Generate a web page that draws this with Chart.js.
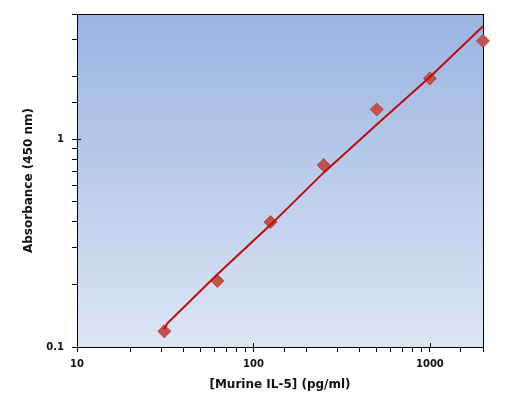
<!DOCTYPE html>
<html>
<head>
<meta charset="utf-8">
<script src="https://cdn.jsdelivr.net/npm/chart.js@4.4.0/dist/chart.umd.min.js"></script>
<style>
    html, body { margin: 0; padding: 0; background: #ffffff; }
    #wrap { width: 520px; height: 414px; }
</style>
</head>
<body>
<div id="wrap"><canvas id="standardChart" width="520" height="414"></canvas></div>
<script>
// standard concentrations (pg/ml) and measured absorbance
const concentrations = [31.25, 62.5, 125, 250, 500, 1000, 2000];
const absorbance = [0.119, 0.208, 0.399, 0.75, 1.39, 1.96, 2.97];

// fitted curve
const fitX = [31.25, 32.5, 62.5, 125, 250, 500, 1000, 2000];
const fitY = [0.122, 0.13, 0.224, 0.387, 0.69, 1.175, 1.99, 3.49];

// labelled decades on each axis
const xMajor = [10, 100, 1000];
const yMajor = [0.1, 1];

const tickFont = { family: 'DejaVu Sans', size: 10, weight: 'bold' };
const titleFont = { family: 'DejaVu Sans', size: 12, weight: 'bold' };
const textColor = '#111111';

function isMajor(list, v) {
    return list.some(m => Math.abs(m - v) / m < 1e-6);
}

// gradient behind the plot, black frame and the short inner ticks at the decades
const plotArea = {
    id: 'plotArea',
    beforeDatasetsDraw(chart) {
        const { ctx, chartArea: a, scales } = chart;
        const g = ctx.createLinearGradient(0, a.top, 0, a.bottom);
        g.addColorStop(0, '#99b4e2');
        g.addColorStop(1, '#dde5f4');
        ctx.save();
        ctx.fillStyle = g;
        ctx.fillRect(a.left, a.top, a.right - a.left, a.bottom - a.top);
        ctx.strokeStyle = '#000000';
        ctx.lineWidth = 1;
        ctx.strokeRect(a.left + 0.5, a.top + 0.5, a.right - a.left, a.bottom - a.top);
        ctx.beginPath();
        xMajor.forEach(v => {
            const px = Math.round(scales.x.getPixelForValue(v)) + 0.5;
            ctx.moveTo(px, a.bottom);
            ctx.lineTo(px, a.bottom - 4);
        });
        yMajor.forEach(v => {
            const py = Math.round(scales.y.getPixelForValue(v)) + 0.5;
            ctx.moveTo(a.left, py);
            ctx.lineTo(a.left + 4, py);
        });
        ctx.stroke();
        ctx.restore();
    }
};

const ctx = document.getElementById('standardChart').getContext('2d');
const standardChart = new Chart(ctx, {
    type: 'scatter',
    data: {
        datasets: [
            {
                label: 'Standard',
                data: concentrations.map((c, i) => ({ x: c, y: absorbance[i] })),
                pointStyle: 'rectRot',
                pointRadius: 6.5,
                backgroundColor: '#c3524e',
                borderColor: '#b84845',
                borderWidth: 1,
                showLine: false,
                clip: false,
                order: 1
            },
            {
                label: 'Fit',
                data: fitX.map((c, i) => ({ x: c, y: fitY[i] })),
                showLine: true,
                borderColor: '#bb0c0c',
                borderWidth: 2,
                pointRadius: 0,
                tension: 0,
                clip: false,
                order: 0
            }
        ]
    },
    options: {
        responsive: false,
        animation: false,
        devicePixelRatio: 1,
        layout: { padding: { left: 0, right: 37, top: 14, bottom: 0 } },
        plugins: {
            legend: { display: false },
            tooltip: { enabled: false }
        },
        scales: {
            x: {
                type: 'logarithmic',
                min: 10,
                max: 2000,
                afterFit(scale) { scale.height = 67; },
                border: { display: true, color: '#000000', width: 1 },
                grid: {
                    drawOnChartArea: false,
                    drawTicks: true,
                    tickLength: 5,
                    color: '#000000'
                },
                ticks: {
                    autoSkip: false,
                    maxRotation: 0,
                    padding: 6,
                    color: textColor,
                    font: tickFont,
                    callback: v => isMajor(xMajor, v) ? String(v) : ''
                },
                title: {
                    display: true,
                    text: '[Murine IL-5] (pg/ml)',
                    color: textColor,
                    font: titleFont,
                    padding: { top: 4, bottom: 22 }
                }
            },
            y: {
                type: 'logarithmic',
                min: 0.1,
                max: 4,
                afterFit(scale) { scale.width = 77; },
                border: { display: true, color: '#000000', width: 1 },
                grid: {
                    drawOnChartArea: false,
                    drawTicks: true,
                    tickLength: 5,
                    color: '#000000'
                },
                ticks: {
                    autoSkip: false,
                    padding: 8,
                    color: textColor,
                    font: tickFont,
                    callback: v => isMajor(yMajor, v) ? String(v) : ''
                },
                title: {
                    display: true,
                    text: 'Absorbance (450 nm)',
                    color: textColor,
                    font: titleFont,
                    padding: { top: 22, bottom: 4 }
                }
            }
        }
    },
    plugins: [plotArea]
});
</script>
</body>
</html>
